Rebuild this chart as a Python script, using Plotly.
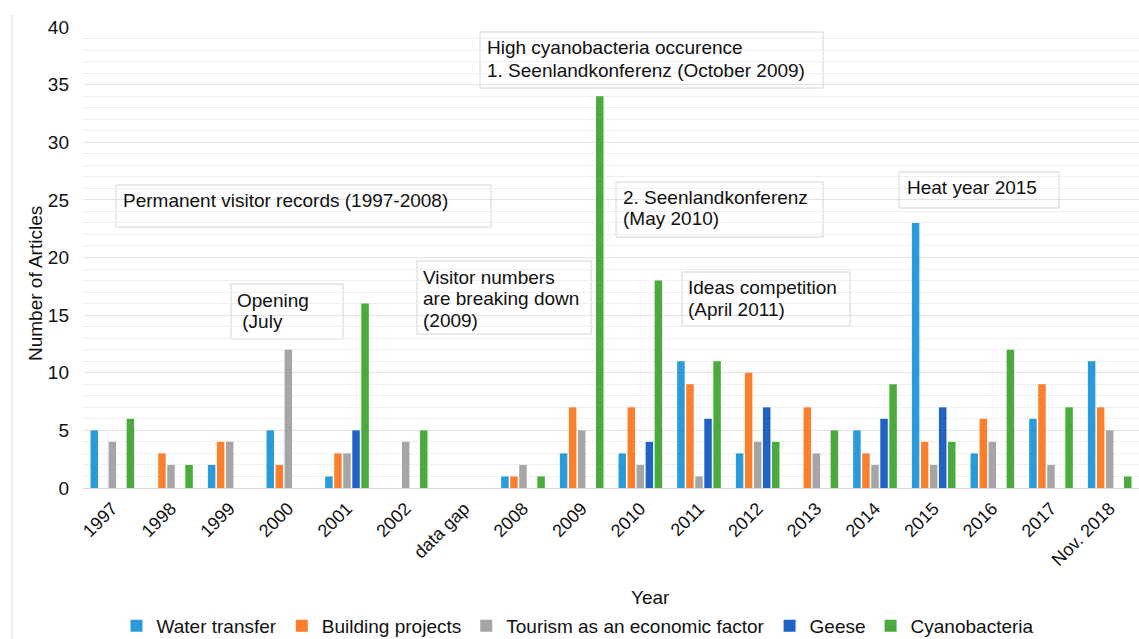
import plotly.graph_objects as go

categories = ["1997", "1998", "1999", "2000", "2001", "2002", "data gap", "2008", "2009",
              "2010", "2011", "2012", "2013", "2014", "2015", "2016", "2017", "Nov. 2018"]
water_transfer = [5, 0, 2, 5, 1, 0, 0, 1, 3, 3, 11, 3, 0, 5, 23, 3, 6, 11]
building_projects = [0, 3, 4, 2, 3, 0, 0, 1, 7, 7, 9, 10, 7, 3, 4, 6, 9, 7]
tourism = [4, 2, 4, 12, 3, 4, 0, 2, 5, 2, 1, 4, 3, 2, 2, 4, 2, 5]
geese = [0, 0, 0, 0, 5, 0, 0, 0, 0, 4, 6, 7, 0, 6, 7, 0, 0, 0]
cyanobacteria = [6, 2, 0, 0, 16, 5, 0, 1, 34, 18, 11, 4, 5, 9, 4, 12, 7, 1]

series = [
    ("Water transfer", water_transfer, "#2b9ad8"),
    ("Building projects", building_projects, "#fd7f2b"),
    ("Tourism as an economic factor", tourism, "#a5a5a5"),
    ("Geese", geese, "#1f63c4"),
    ("Cyanobacteria", cyanobacteria, "#4aab3c"),
]

# event boxes: (lines, box px x0, y0, x1, y1, text left px, first line centre px, line step px)
events = [
    (["Permanent visitor records (1997-2008)"], 116, 185, 491, 227, 123, 199, 22),
    (["Opening", " (July"], 231, 284, 343, 339, 237, 299, 21),
    (["Visitor numbers", "are breaking down", "(2009)"], 417, 261, 591, 334, 423, 276, 21.5),
    (["High cyanobacteria occurence", "1. Seenlandkonferenz (October 2009)"],
     480, 32, 823, 88, 487, 46, 23),
    (["2. Seenlandkonferenz", "(May 2010)"], 616, 182, 823, 237, 623, 196, 21.5),
    (["Ideas competition", "(April 2011)"], 682, 272, 850, 326, 688, 286, 22),
    (["Heat year 2015"], 899, 172, 1059, 208, 907, 186, 22),
]

FIG_W, FIG_H = 1139, 639
L, T, W, H = 83, 27, 1056, 461
FONT = "Liberation Sans, Arial, sans-serif"


def px2x(px):
    return (px - L) / W


def py2y(py):
    return (T + H - py) / H


fig = go.Figure()
for name, vals, col in series:
    fig.add_trace(go.Bar(x=categories, y=vals, name=name, marker_color=col,
                         marker_line_width=0))

shapes = []
annotations = []
for lines, x0, y0, x1, y1, tx, ty, step in events:
    shapes.append(dict(type="rect", xref="paper", yref="paper",
                       x0=px2x(x0), x1=px2x(x1), y0=py2y(y1), y1=py2y(y0),
                       line=dict(color="#d4d4d4", width=1), fillcolor="white",
                       layer="between"))
    for i, line in enumerate(lines):
        annotations.append(dict(text=line.replace(" ", "&nbsp;", 1) if line.startswith(" ") else line,
                                xref="paper", yref="paper",
                                x=px2x(tx - 2), y=py2y(ty + i * step + 1),
                                xanchor="left", yanchor="middle",
                                align="left", showarrow=False,
                                font=dict(family=FONT, size=19, color="#111")))

# left frame line
shapes.append(dict(type="line", xref="paper", yref="paper",
                   x0=px2x(12), x1=px2x(12), y0=py2y(639), y1=py2y(14),
                   line=dict(color="#dddddd", width=1)))

annotations.append(dict(text="Year", xref="paper", yref="paper", x=px2x(650), y=py2y(597),
                        xanchor="center", yanchor="middle", showarrow=False,
                        font=dict(family=FONT, size=19, color="#111")))
annotations.append(dict(text="Number of Articles", xref="paper", yref="paper",
                        x=px2x(35), y=py2y(284), xanchor="center", yanchor="middle",
                        textangle=-90, showarrow=False,
                        font=dict(family=FONT, size=19, color="#111")))

fig.update_layout(
    width=FIG_W, height=FIG_H,
    margin=dict(l=L, r=FIG_W - L - W, t=T, b=FIG_H - T - H, autoexpand=False),
    paper_bgcolor="white", plot_bgcolor="white",
    barmode="group", bargap=0.23, bargroupgap=0.17,
    font=dict(family=FONT, size=16, color="#111"),
    showlegend=True,
    legend=dict(orientation="h", x=px2x(578), xanchor="center", y=py2y(626), yanchor="middle",
                font=dict(family=FONT, size=19, color="#111"), itemwidth=30,
                traceorder="normal"),
    shapes=shapes, annotations=annotations,
)
fig.update_xaxes(type="category", tickangle=-45, showgrid=False, automargin=False,
                 showline=True, linecolor="#d9d9d9", linewidth=1,
                 ticks="", tickfont=dict(family=FONT, size=18, color="#111"),
                 ticklabelstandoff=2)
fig.update_yaxes(range=[0, 40], dtick=5, showgrid=True, gridcolor="#e2e2e2", automargin=False,
                 minor=dict(dtick=1, showgrid=True, gridcolor="#efefef"),
                 zeroline=False, showline=False, ticks="",
                 tickfont=dict(family=FONT, size=19, color="#111"),
                 ticklabelstandoff=13)

fig.write_html("out.html", config={"displayModeBar": False},
               post_script="document.body.style.margin='0';document.body.style.overflow='hidden';")
